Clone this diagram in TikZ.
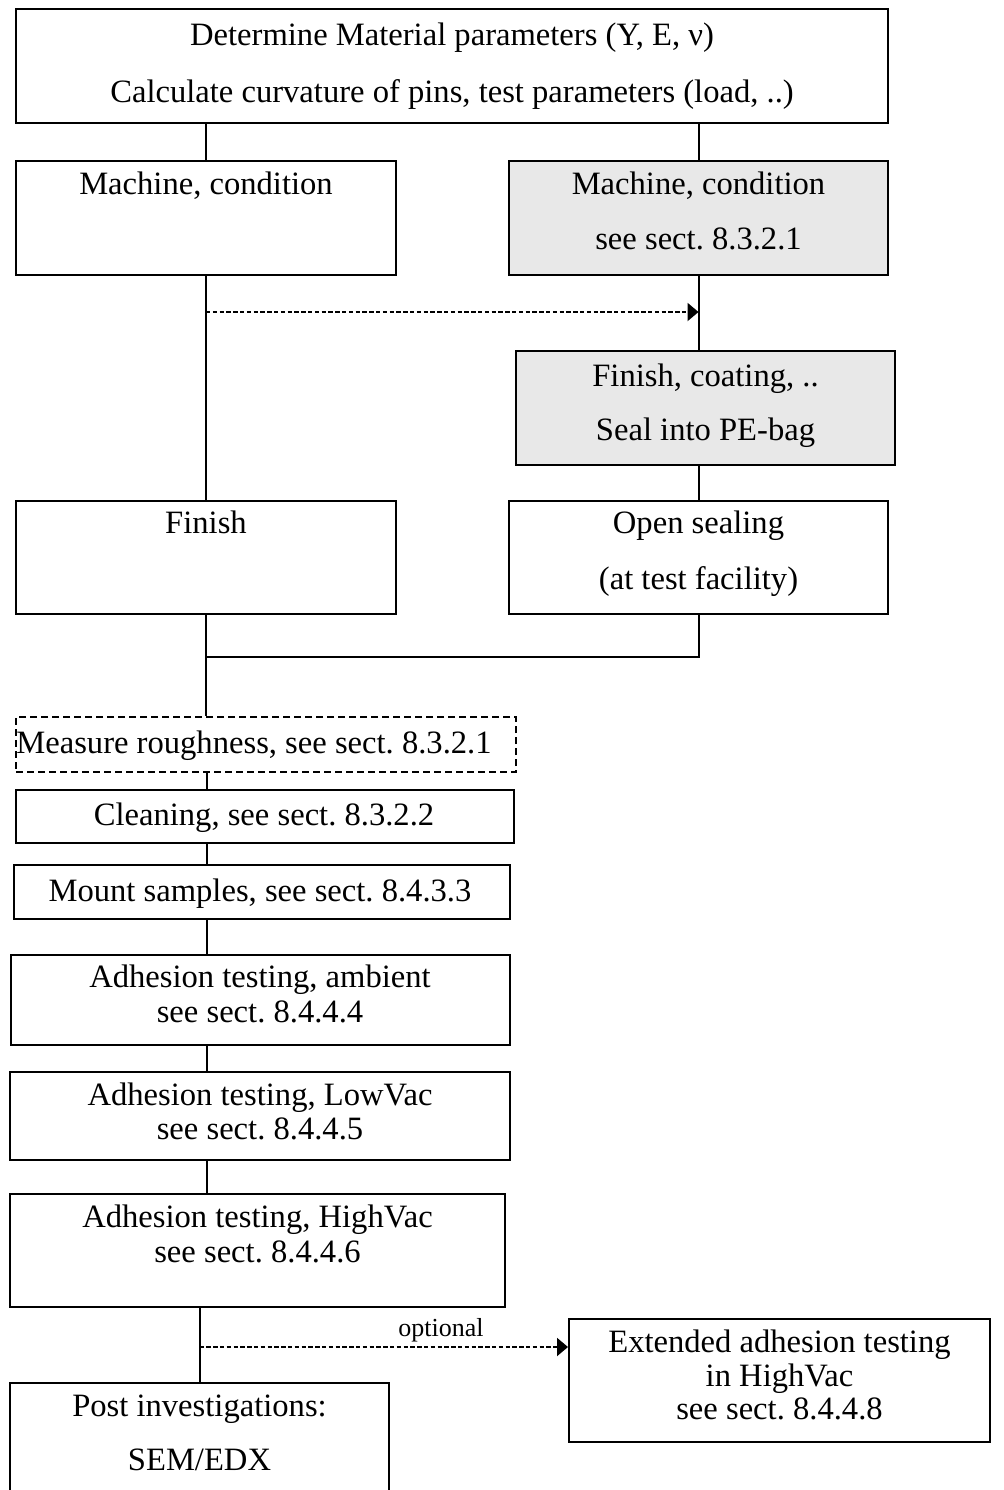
\documentclass[tikz,border=0pt]{standalone}
\usepackage{fontspec}
\setmainfont{Liberation Serif}
\usetikzlibrary{arrows.meta}
\definecolor{boxgray}{RGB}{232,232,232}
\begin{document}
\begin{tikzpicture}[x=0.5pt,y=-0.5pt,
  box/.style={draw=black,line width=1pt,inner sep=0pt,minimum width=#1,anchor=center},
  txt/.style={inner sep=0pt,font=\fontsize{16.3}{19}\selectfont\frenchspacing,text height=1.04em,text depth=0.2em},
  small/.style={inner sep=0pt,font=\fontsize{13}{15}\selectfont,text height=1.04em,text depth=0.2em},
  conn/.style={line width=1pt},
  dconn/.style={line width=1pt,dash pattern=on 2.2pt off 1.2pt,-{Triangle[length=5.5pt,width=9pt]}},
  dbox/.style={draw=black,line width=0.9pt,dash pattern=on 3.5pt off 2pt,inner sep=0pt}
]
\clip (0,0) rectangle (1003,1490);
\fill[white] (0,0) rectangle (1003,1490);

% boxes
\node[box=436pt,minimum height=57pt] (top) at (452,66) {};
\node[box=190pt,minimum height=57pt] (mL) at (206,218) {};
\node[box=189.5pt,minimum height=57pt,fill=boxgray] (mR) at (698.5,218) {};
\node[box=189.5pt,minimum height=57pt,fill=boxgray] (fc) at (705.5,408) {};
\node[box=190pt,minimum height=56.5pt] (fin) at (206,557.5) {};
\node[box=189.5pt,minimum height=56.5pt] (open) at (698.5,557.5) {};
\node[dbox,minimum width=250pt,minimum height=27.5pt] (meas) at (266,744.5) {};
\node[box=249pt,minimum height=26.5pt] (clean) at (265,816.5) {};
\node[box=248pt,minimum height=27pt] (mount) at (262,892) {};
\node[box=249.5pt,minimum height=45pt] (amb) at (260.5,1000) {};
\node[box=250pt,minimum height=44pt] (low) at (260,1116) {};
\node[box=247.5pt,minimum height=56.5pt] (high) at (257.5,1250.5) {};
\node[box=189.5pt,minimum height=63.5pt] (post) at (199.5,1446.5) {};
\node[box=210.5pt,minimum height=61.5pt] (ext) at (779.5,1380.5) {};

% texts
\node[txt] (t1a) at (452,37) {Determine Material parameters (Y, E, ν)};
\node[txt] (t1b) at (452,94) {Calculate curvature of pins, test parameters (load, ..)};
\node[txt] (t2) at (206,186) {Machine, condition};
\node[txt] (t3a) at (698.5,186) {Machine, condition};
\node[txt] (t3b) at (698.5,241) {see sect. 8.3.2.1};
\node[txt] (t4a) at (705.5,378) {Finish, coating, ..};
\node[txt] (t4b) at (705.5,432) {Seal into PE-bag};
\node[txt] (t5) at (206,525) {Finish};
\node[txt] (t6a) at (698.5,525) {Open sealing};
\node[txt] (t6b) at (698.5,581) {(at test facility)};
\node[txt] (t7) at (254,745) {Measure roughness, see sect. 8.3.2.1};
\node[txt] (t8) at (264,817) {Cleaning, see sect. 8.3.2.2};
\node[txt] (t9) at (260,893) {Mount samples, see sect. 8.4.3.3};
\node[txt] (t10a) at (260,979) {Adhesion testing, ambient};
\node[txt] (t10b) at (260,1014) {see sect. 8.4.4.4};
\node[txt] (t11a) at (260,1097) {Adhesion testing, LowVac};
\node[txt] (t11b) at (260,1131) {see sect. 8.4.4.5};
\node[txt] (t12a) at (257.5,1219) {Adhesion testing, HighVac};
\node[txt] (t12b) at (257.5,1254) {see sect. 8.4.4.6};
\node[txt] (t13a) at (199.5,1408) {Post investigations:};
\node[txt] (t13b) at (199.5,1462) {SEM/EDX};
\node[txt] (t14a) at (779.5,1344) {Extended adhesion testing};
\node[txt] (t14b) at (779.5,1378) {in HighVac};
\node[txt] (t14c) at (779.5,1411) {see sect. 8.4.4.8};
\node[small] (opt) at (441,1328) {optional};

% helper coordinates
\coordinate (sp) at (207,0);
\coordinate (j1) at (206,312);
\coordinate (j2) at (199.5,1347);
\coordinate (jm) at (206,657);

% connectors
\draw[conn] (top.south -| mL.north) -- (mL.north);
\draw[conn] (top.south -| mR.north) -- (mR.north);
\draw[conn] (mL.south) -- (fin.north);
\draw[conn] (mR.south) -- (mR.south |- fc.north);
\draw[conn] (fc.south -| open.north) -- (open.north);
\draw[conn] (open.south) -- (open.south |- jm) -- (jm);
\draw[conn] (fin.south) -- (fin.south |- meas.north);
\draw[conn] (meas.south -| sp) -- (clean.north -| sp);
\draw[conn] (clean.south -| sp) -- (mount.north -| sp);
\draw[conn] (mount.south -| sp) -- (amb.north -| sp);
\draw[conn] (amb.south -| sp) -- (low.north -| sp);
\draw[conn] (low.south -| sp) -- (high.north -| sp);
\draw[conn] (high.south -| post.north) -- (post.north);
\draw[dconn] (j1) -- (j1 -| mR.south);
\draw[dconn] (j2) -- (j2 -| ext.west);
\end{tikzpicture}
\end{document}
